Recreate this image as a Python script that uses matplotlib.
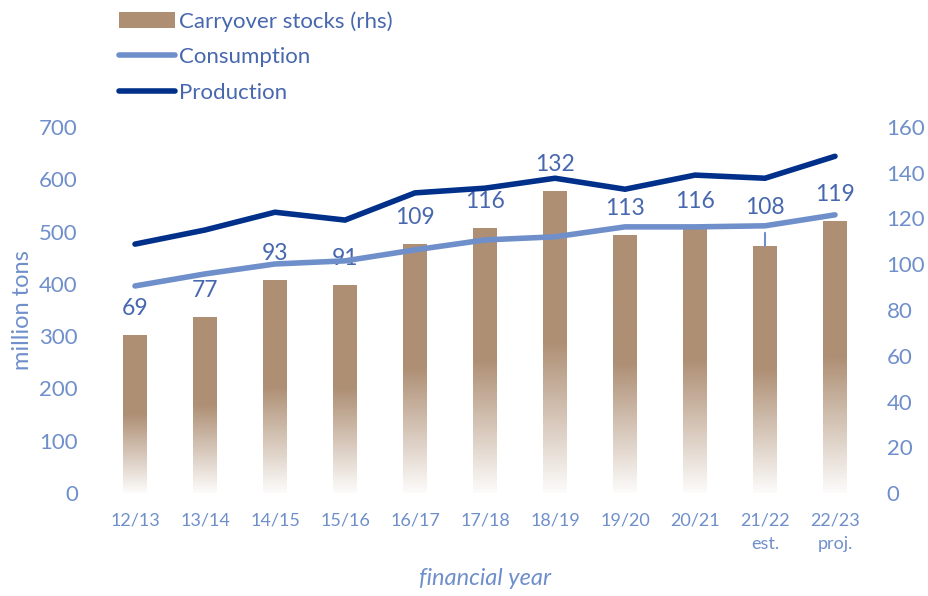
import matplotlib
matplotlib.use("Agg")
import matplotlib.pyplot as plt
import numpy as np
from matplotlib.colors import to_rgb
from matplotlib.patches import Patch
from matplotlib.lines import Line2D

plt.rcParams['font.family'] = ['Lato', 'DejaVu Sans']

years = ["12/13", "13/14", "14/15", "15/16", "16/17", "17/18", "18/19",
         "19/20", "20/21", "21/22\nest.", "22/23\nproj."]
production = [476, 503, 537, 522, 574, 583, 602, 581, 608, 602, 644]
consumption = [396, 419, 438, 444, 465, 484, 490, 509, 509, 511, 532]
stocks = [69, 77, 93, 91, 109, 116, 132, 113, 116, 108, 119]

bar_col = "#AE8F74"
cons_col = "#6F8FCB"
prod_col = "#00308A"
tick_col = "#6F8FCB"
label_col = "#4767AE"

fig = plt.figure(figsize=(9.29, 5.96), dpi=100)
ax1 = fig.add_axes([100/929, 1-493/596, 770/929, 366/596])
ax2 = ax1.twinx()
ax1.set_zorder(ax2.get_zorder() + 1)
ax1.patch.set_visible(False)

x = np.arange(len(years))

bars = ax2.bar(x, stocks, width=0.33, facecolor="none", edgecolor="none")
c = np.array(to_rgb(bar_col))
n = 200
t = np.linspace(0, 1, n)  # 0 bottom -> 1 top
frac = np.clip(t / 0.5, 0, 1)
frac = 0.03 + 0.97 * frac
grad = (1 - frac)[:, None] * np.ones(3) + frac[:, None] * c
grad = grad[:, None, :]
for b in bars:
    x0, w, h = b.get_x(), b.get_width(), b.get_height()
    im = ax2.imshow(grad, extent=[x0, x0 + w, 0, h], origin="lower",
                    aspect="auto", zorder=1)
    im.set_clip_path(b)

ax1.plot(x, consumption, color=cons_col, lw=4, solid_capstyle="round",
         solid_joinstyle="miter", zorder=3)
ax1.plot(x, production, color=prod_col, lw=4, solid_capstyle="round",
         solid_joinstyle="miter", zorder=4)

ax1.set_xlim(-0.5, len(years) - 0.5)
ax1.set_ylim(0, 700)
ax2.set_ylim(0, 160)
ax1.set_yticks(range(0, 701, 100))
ax2.set_yticks(range(0, 161, 20))
ax1.set_xticks(x)
ax1.set_xticklabels(years, fontsize=13, color=tick_col, linespacing=1.6)
ax1.tick_params(axis="y", labelsize=16, colors=tick_col, length=0, pad=16)
ax2.tick_params(axis="y", labelsize=16, colors=tick_col, length=0, pad=12)
ax1.tick_params(axis="x", length=0, pad=14)
for a in (ax1, ax2):
    for s in a.spines.values():
        s.set_visible(False)

ax1.set_ylabel("million tons", fontsize=17, color=tick_col, labelpad=4)
ax1.set_xlabel("financial year", fontsize=17, color=tick_col, style="italic",
               labelpad=11)

for i, v in enumerate(stocks):
    if i == 9:
        ax2.annotate(str(v), xy=(i, v), xytext=(0, 28), textcoords="offset points",
                     ha="center", va="center", fontsize=16.5, color=label_col,
                     arrowprops=dict(arrowstyle="-", color=cons_col, lw=1.5,
                                     shrinkA=9, shrinkB=0), zorder=5)
    else:
        ax2.annotate(str(v), xy=(i, v), xytext=(0, 19), textcoords="offset points",
                     ha="center", va="center", fontsize=16.5, color=label_col, zorder=5)

handles = [Patch(facecolor=bar_col, edgecolor="none"),
           Line2D([], [], color=cons_col, lw=4, solid_capstyle="round"),
           Line2D([], [], color=prod_col, lw=4, solid_capstyle="round")]
labels = ["Carryover stocks (rhs)", "Consumption", "Production"]
leg = fig.legend(handles, labels, loc="upper left", bbox_to_anchor=(108/929, 1.0),
                 frameon=False, fontsize=16, handlelength=2.5, handletextpad=0.2,
                 labelspacing=0.7, borderaxespad=0.1)
for t_ in leg.get_texts():
    t_.set_color(label_col)

fig.savefig("out.png", dpi=100)
